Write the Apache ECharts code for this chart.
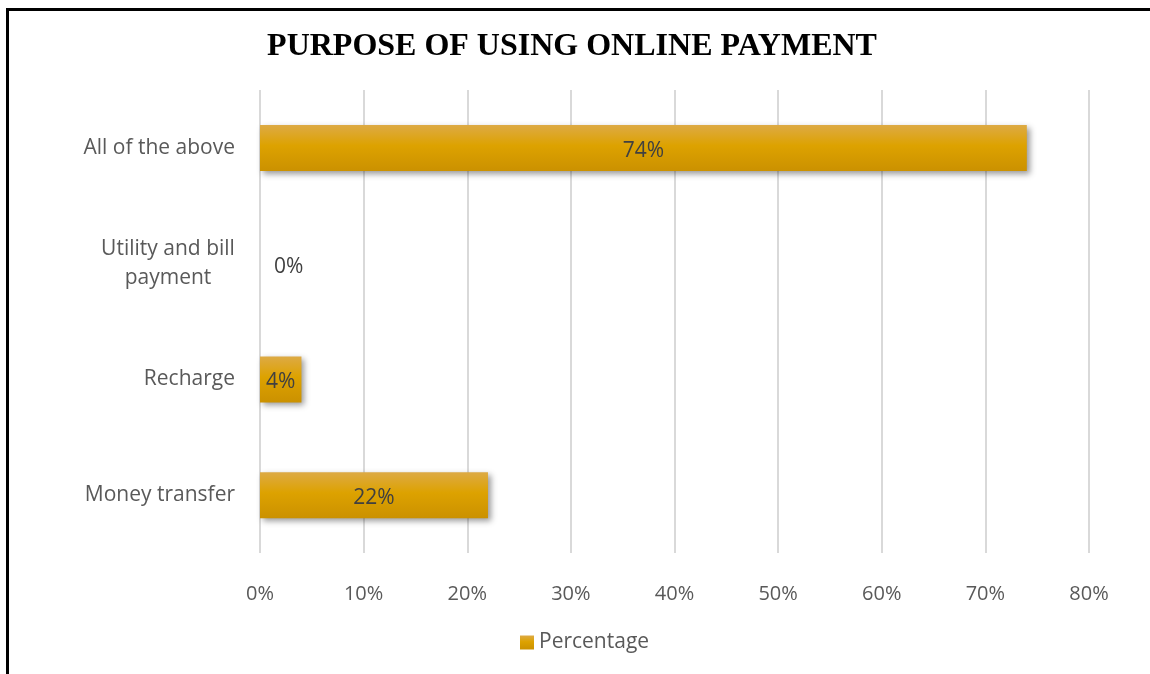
<!DOCTYPE html>
<html>
<head>
<meta charset="utf-8">
<script src="https://cdn.jsdelivr.net/npm/echarts@6/dist/echarts.min.js"></script>
<style>
  html, body { margin: 0; padding: 0; background: #fff; }
  #chart { width: 1150px; height: 674px; }
</style>
</head>
<body>
<div id="chart"></div>
<script>
// Purposes listed bottom-to-top, as the category axis draws them
const categories = ['Money transfer', 'Recharge', 'Utility and bill\npayment', 'All of the above'];
const percentages = [22, 4, 0, 74];
const tickValues = [0, 10, 20, 30, 40, 50, 60, 70, 80];
const seriesName = 'Percentage';
const titleText = 'PURPOSE OF USING ONLINE PAYMENT';

const labelFont = '"Open Sans", Lato, sans-serif';

const barFill = new echarts.graphic.LinearGradient(0, 0, 0, 1, [
  { offset: 0, color: '#DDAA45' },
  { offset: 0.45, color: '#DDA200' },
  { offset: 1, color: '#CB9100' }
]);

const barData = percentages.map(v => {
  const item = { value: v };
  if (v === 0) {
    item.label = { position: 'right', distance: 14 };
  }
  return item;
});

// Two-line category names are centred line by line, kept right of the axis gap
const categoryData = categories.map(c => {
  if (c.indexOf('\n') < 0) return c;
  return { value: c, textStyle: { align: 'center', padding: [6, 134, 0, 0] } };
});

const chart = echarts.init(document.getElementById('chart'));
chart.setOption({
  backgroundColor: '#ffffff',
  animation: false,
  title: {
    text: titleText,
    left: 567,
    top: 26,
    textAlign: 'center',
    textStyle: {
      fontFamily: '"Liberation Serif", "Times New Roman", serif',
      fontWeight: 'bold',
      fontSize: 32,
      color: '#000000'
    }
  },
  graphic: [{
    type: 'rect',
    shape: { x: 7.5, y: 9.5, width: 1160, height: 700 },
    style: { fill: 'none', stroke: '#000000', lineWidth: 3 },
    silent: true,
    z: 100
  }],
  legend: {
    bottom: 16,
    left: 515,
    itemWidth: 14,
    itemHeight: 14,
    itemGap: 6,
    icon: 'rect',
    textStyle: { fontFamily: labelFont, fontSize: 21, color: '#595959' },
    data: [seriesName]
  },
  grid: {
    left: 260,
    right: 61,
    top: 90,
    bottom: 121,
    containLabel: false
  },
  xAxis: {
    type: 'value',
    min: 0,
    max: 80,
    interval: 10,
    axisLine: { show: false },
    axisTick: { show: false },
    axisLabel: {
      formatter: v => (tickValues.includes(v) ? v + '%' : ''),
      margin: 31,
      fontFamily: labelFont,
      fontSize: 20,
      color: '#595959'
    },
    splitLine: { lineStyle: { color: '#d9d9d9', width: 2 } }
  },
  yAxis: {
    type: 'category',
    data: categoryData,
    axisLine: { show: false },
    axisTick: { show: false },
    axisLabel: {
      margin: 25,
      fontFamily: labelFont,
      fontSize: 21,
      lineHeight: 29,
      padding: [4, 0, 0, 0],
      color: '#595959',
      align: 'right'
    }
  },
  series: [{
    name: seriesName,
    type: 'bar',
    data: barData,
    barWidth: 46,
    itemStyle: {
      color: barFill,
      shadowColor: 'rgba(0,0,0,0.4)',
      shadowBlur: 6,
      shadowOffsetX: 3,
      shadowOffsetY: 3
    },
    label: {
      show: true,
      position: 'inside',
      offset: [0, 3],
      formatter: p => p.value + '%',
      fontFamily: labelFont,
      fontSize: 21,
      color: '#404040'
    }
  }]
});
</script>
</body>
</html>
